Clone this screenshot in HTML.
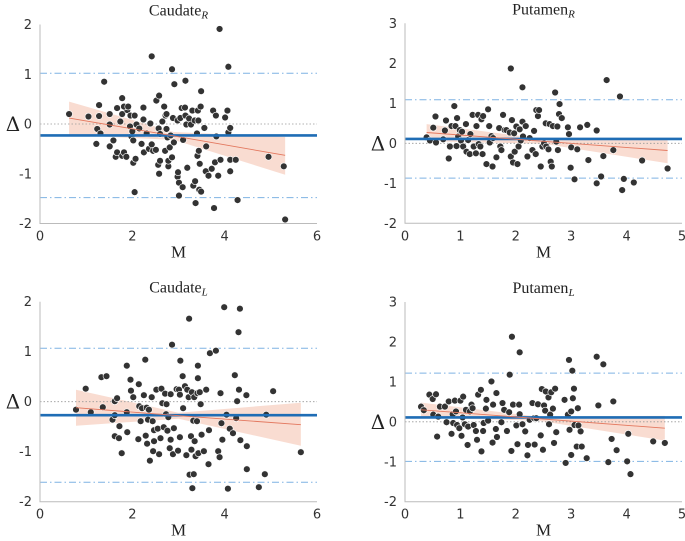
<!DOCTYPE html>
<html><head><meta charset="utf-8"><style>
html,body{margin:0;padding:0;background:#fff;}
svg{display:block;}
</style></head><body>
<svg id="fig" width="685" height="541" viewBox="0 0 685 541"></svg>
<script>
// ---- Caudate R ----
const caudRM=[0.63,1.05,1.28,1.28,1.39,1.24,1.31,1.22,1.51,1.51,1.51,1.59,1.64,1.67,1.67,1.74,1.78,1.78,1.82,1.89,1.78,1.82,1.87,1.91,1.95,1.96,1.98,2.00,2.02,2.05,2.02,2.05,2.07,2.09,2.15,2.20,2.24,2.24,2.25,2.31,2.36,2.39,2.42,2.42,2.45,2.51,2.52,2.56,2.57,2.58,2.58,2.60,2.60,2.65,2.69,2.71,2.72,2.74,2.74,2.76,2.78,2.78,2.81,2.83,2.86,2.86,2.88,2.90,2.91,2.98,2.98,2.99,3.01,3.01,3.04,3.07,3.09,3.10,3.14,3.15,3.15,3.17,3.19,3.23,3.27,3.30,3.32,3.35,3.36,3.37,3.40,3.41,3.42,3.43,3.44,3.45,3.46,3.48,3.49,3.49,3.56,3.60,3.59,3.65,3.72,3.75,3.79,3.77,3.81,3.82,3.86,3.89,3.91,4.01,4.06,4.08,4.08,4.12,4.12,4.12,4.24,4.28,4.95,5.28,5.31];
const caudRD=[0.20,0.15,0.38,0.16,0.85,-0.10,-0.19,-0.40,0.20,-0.01,-0.45,-0.33,-0.66,0.32,-0.57,0.05,-0.64,0.20,-0.57,0.28,0.52,0.35,-0.66,0.35,-0.05,0.17,-0.25,-0.15,-0.33,0.17,-0.78,-1.37,-0.70,-0.01,-0.09,-0.40,0.09,0.33,-0.57,-0.19,-0.50,0.01,-0.41,1.36,-0.54,-0.52,0.47,-0.82,-0.09,0.57,-1.00,-0.20,-0.74,0.05,0.35,-0.54,0.17,0.20,-0.10,-0.27,-0.85,-0.74,-0.47,-0.23,-0.67,1.10,0.12,-0.37,0.80,0.07,-1.06,-0.97,-1.18,-1.44,0.12,0.32,-1.27,-0.32,0.33,0.17,0.87,-0.01,-0.88,0.11,-0.01,0.27,-1.24,0.07,-1.15,-1.59,-0.19,-0.64,0.27,0.07,-0.54,-1.32,-0.80,0.35,-1.36,0.66,-0.08,-0.45,-0.95,-1.04,-0.90,0.27,-0.77,-1.69,0.17,-0.25,-1.04,1.91,-0.72,0.13,0.27,1.15,-0.17,-0.08,-0.72,-0.95,-0.72,-1.53,-0.66,-0.85,-1.92];
const caudRStats=[-0.23,1.02,-1.48]; // mean, upper LoA, lower LoA
const caudRFitX=[0.63,2.9,5.31];
const caudRFitY=[0.12,-0.24,-0.63];
const caudRBandHi=[0.45,-0.16,-0.26];
const caudRBandLo=[-0.22,-0.32,-1.02];
// ---- Putamen R ----
const putRM=[0.39,0.45,0.51,0.55,0.56,0.69,0.72,0.74,0.79,0.81,0.84,0.89,0.91,0.93,0.94,0.96,0.99,1.01,1.03,1.05,1.10,1.11,1.14,1.17,1.18,1.22,1.24,1.28,1.29,1.32,1.33,1.36,1.38,1.40,1.41,1.47,1.50,1.52,1.53,1.56,1.58,1.59,1.65,1.70,1.72,1.74,1.77,1.80,1.83,1.89,1.91,1.91,1.93,1.95,1.97,1.98,2.01,2.03,2.05,2.07,2.09,2.12,2.12,2.13,2.18,2.21,2.25,2.30,2.33,2.36,2.37,2.40,2.42,2.45,2.48,2.51,2.54,2.55,2.59,2.61,2.63,2.65,2.67,2.71,2.73,2.75,2.76,2.78,2.79,2.83,2.94,2.96,2.99,3.00,3.06,3.11,3.16,3.29,3.31,3.46,3.46,3.54,3.58,3.64,3.76,3.88,3.92,3.95,4.13,4.28,4.74];
const putRD=[0.15,0.07,0.39,0.67,0.02,0.10,0.32,0.57,-0.38,-0.08,0.43,0.93,0.43,-0.07,0.63,0.17,0.33,0.07,0.29,-0.08,0.48,-0.21,0.08,-0.27,0.23,0.71,-0.08,-0.25,0.43,0.71,-0.02,-0.08,0.60,-0.27,0.68,-0.52,0.85,0.43,0.02,0.18,-0.58,0.13,-0.35,0.38,-0.08,-0.17,0.71,0.33,0.33,0.27,1.87,-0.33,0.58,-0.48,0.25,-0.21,0.42,-0.52,-0.08,0.35,0.07,1.40,0.54,0.17,0.43,-0.33,0.13,-0.17,0.31,-0.27,0.83,0.68,0.83,-0.58,-0.08,0.00,0.50,-0.08,-0.15,0.48,-0.46,-0.58,0.43,1.27,0.04,0.42,-0.17,0.73,0.98,0.63,0.40,0.23,-0.61,-0.10,-0.90,-0.15,0.40,0.46,-0.42,0.32,-1.00,-0.83,-0.32,1.58,-0.17,1.17,-1.17,-0.89,-0.98,-0.43,-0.63];
const putRStats=[0.11,1.09,-0.87];
const putRFitX=[0.39,2.5,4.74];
const putRFitY=[0.27,0.05,-0.18];
const putRBandHi=[0.48,0.11,0.12];
const putRBandLo=[0.05,-0.01,-0.50];
// ---- Caudate L ----
const caudLM=[0.78,0.99,1.10,1.33,1.36,1.44,1.57,1.62,1.62,1.67,1.62,1.71,1.72,1.77,1.88,1.88,1.89,1.96,1.97,2.02,2.13,2.14,2.15,2.18,2.21,2.25,2.28,2.29,2.31,2.32,2.34,2.36,2.38,2.42,2.44,2.45,2.47,2.47,2.52,2.55,2.58,2.61,2.63,2.65,2.68,2.71,2.73,2.74,2.76,2.78,2.81,2.83,2.83,2.86,2.88,2.90,2.96,2.99,3.01,3.03,3.03,3.04,3.09,3.10,3.14,3.17,3.19,3.22,3.23,3.24,3.27,3.28,3.29,3.30,3.32,3.33,3.34,3.35,3.37,3.40,3.41,3.42,3.42,3.43,3.46,3.48,3.50,3.55,3.60,3.65,3.66,3.68,3.81,3.86,3.89,3.91,3.93,3.95,3.99,4.04,4.07,4.11,4.18,4.22,4.25,4.27,4.30,4.31,4.33,4.34,4.47,4.48,4.48,4.74,4.87,4.90,5.05,5.65];
const caudLD=[-0.16,0.26,-0.21,0.49,-0.11,0.51,-0.36,-0.27,0.01,0.07,-0.69,-0.73,-0.49,-1.03,-0.21,0.72,-0.61,0.44,0.22,0.09,-0.75,0.35,-0.09,-0.39,-0.13,0.13,0.84,-0.68,-0.12,-0.84,-0.36,-0.16,-1.18,0.09,-0.39,-0.99,-0.79,-0.57,0.24,-0.54,-1.05,-0.73,0.26,-0.03,-0.51,0.16,-0.25,-0.05,-0.58,-0.31,-0.93,0.15,-0.76,1.14,-1.05,-0.53,0.25,-0.98,0.24,-0.71,0.14,0.82,0.51,-0.13,0.31,-1.07,0.24,0.09,1.66,-1.46,-0.69,-0.96,0.19,-1.73,-0.38,-1.45,0.09,-0.79,-1.09,-0.39,0.17,0.47,0.72,-1.03,0.19,-0.05,-0.66,-0.99,0.24,-1.25,-0.57,0.97,1.02,-0.99,-1.11,0.17,-0.43,-0.76,1.89,-0.26,-1.74,-0.54,-0.63,0.53,-0.33,0.01,1.39,0.24,1.86,-0.77,0.13,-0.89,-1.35,-1.71,-1.45,-0.26,0.21,-1.01];
const caudLStats=[-0.27,1.07,-1.61];
const caudLFitX=[0.78,3.0,5.65];
const caudLFitY=[-0.12,-0.28,-0.46];
const caudLBandHi=[0.24,-0.22,-0.02];
const caudLBandLo=[-0.48,-0.34,-0.88];
// ---- Putamen L ----
const putLM=[0.29,0.34,0.44,0.50,0.51,0.56,0.58,0.60,0.63,0.72,0.75,0.79,0.84,0.86,0.87,0.90,0.92,0.94,0.98,1.00,1.02,1.04,1.05,1.08,1.10,1.13,1.14,1.17,1.20,1.22,1.24,1.28,1.30,1.32,1.37,1.38,1.41,1.42,1.46,1.47,1.50,1.56,1.58,1.59,1.64,1.65,1.66,1.74,1.76,1.79,1.84,1.88,1.89,1.92,1.93,1.95,2.01,2.03,2.06,2.07,2.07,2.12,2.17,2.21,2.22,2.25,2.30,2.33,2.34,2.37,2.40,2.45,2.47,2.49,2.51,2.53,2.54,2.59,2.60,2.62,2.64,2.67,2.69,2.71,2.73,2.88,2.90,2.94,2.96,2.97,3.00,3.00,3.02,3.03,3.05,3.06,3.10,3.12,3.13,3.17,3.19,3.28,3.46,3.49,3.58,3.73,3.76,3.82,3.67,4.01,4.03,4.07,4.48,4.69];
const putLD=[0.38,0.29,0.68,0.57,0.18,0.69,-0.37,0.13,0.38,0.38,-0.01,0.51,-0.30,0.19,-0.03,0.53,0.26,-0.08,-0.16,0.53,-0.35,0.11,0.63,-0.06,0.30,-0.58,-0.12,0.26,0.43,0.34,-0.08,-0.23,-0.45,0.68,0.80,-0.74,-0.23,-0.03,0.33,0.55,0.03,1.01,-0.52,0.43,-0.18,0.72,-0.38,-0.01,0.47,0.30,-0.23,0.24,1.18,-0.73,2.13,0.43,-0.09,-0.56,0.43,1.74,0.19,-0.06,-0.24,-0.84,-0.58,0.05,0.47,0.09,-0.57,0.09,0.44,-0.34,0.82,-0.70,0.41,0.28,0.76,0.61,-0.06,0.18,0.74,0.33,-0.53,0.83,-0.26,0.55,-1.03,0.18,1.55,-0.20,-0.83,0.26,1.28,0.59,0.83,-0.08,-0.62,0.34,-0.09,-0.24,-0.62,-0.91,1.63,0.41,1.44,-0.43,0.51,-0.71,-1.01,-0.99,-0.30,-1.31,-0.49,-0.53];
const putLStats=[0.11,1.22,-0.99];
const putLFitX=[0.29,2.4,4.69];
const putLFitY=[0.30,0.08,-0.16];
const putLBandHi=[0.48,0.13,0.15];
const putLBandLo=[0.10,0.03,-0.47];

const xTicksCaud=[0,2,4,6];
const xTicksPut=[0,1,2,3,4,5];
const yTicksCaud=[-2,-1,0,1,2];
const yTicksPut=[-2,-1,0,1,2,3];

const NS="http://www.w3.org/2000/svg";
const svg=document.getElementById('fig');
function mk(tag,attrs,parent){const e=document.createElementNS(NS,tag);for(const k in attrs)e.setAttribute(k,attrs[k]);(parent||svg).appendChild(e);return e;}

function panel(cfg){
  const g=mk('g',{});
  
  
  const X=v=>cfg.x0+(v-cfg.xmin)/(cfg.xmax-cfg.xmin)*(cfg.x1-cfg.x0);
  const Y=v=>cfg.yb+(v-cfg.ymin)/(cfg.ymax-cfg.ymin)*(cfg.yt-cfg.yb);
  let pts=[];
  for(let i=0;i<cfg.fx.length;i++)pts.push(X(cfg.fx[i])+','+Y(cfg.bh[i]));
  for(let i=cfg.fx.length-1;i>=0;i--)pts.push(X(cfg.fx[i])+','+Y(cfg.bl[i]));
  const band=mk('polygon',{points:pts.join(' '),fill:'#f6cdbd','fill-opacity':'0.7'},g);
  
  
  const z=mk('line',{x1:cfg.x0,x2:cfg.x1,y1:Y(0),y2:Y(0),stroke:'#999','stroke-width':0.8,'stroke-dasharray':'1.5,2'},g);
  
  
  [1,2].forEach(i=>{
    const l=mk('line',{x1:cfg.x0,x2:cfg.x1,y1:Y(cfg.stats[i]),y2:Y(cfg.stats[i]),stroke:'#7fb2e3','stroke-width':1,'stroke-dasharray':'7,3,1.5,3'},g);
    
    
  });
  for(let i=0;i<cfg.m.length;i++){
    const c=mk('circle',{cx:X(cfg.m[i]),cy:Y(cfg.d[i]),r:3.4,fill:'#333',stroke:'#fff','stroke-width':0.6},g);
    
    
  }
  const ml=mk('line',{x1:cfg.x0,x2:cfg.x1,y1:Y(cfg.stats[0]),y2:Y(cfg.stats[0]),stroke:'#1f6db5','stroke-width':2.6},g);
  
  
  const rp=cfg.fx.map((v,i)=>X(v)+','+Y(cfg.fy[i])).join(' ');
  const rl=mk('polyline',{points:rp,fill:'none',stroke:'#e3785f','stroke-width':0.9},g);
  
  
  const ax=mk('path',{d:`M${cfg.x0},${cfg.yt} V${cfg.yb} H${cfg.x1}`,fill:'none',stroke:'#bbb','stroke-width':1},g);
  
  
  cfg.xt.forEach(v=>{
    const t=mk('text',{x:X(v),y:cfg.yb+17,'text-anchor':'middle','font-size':13,fill:'#333','font-family':'DejaVu Sans, Liberation Sans, sans-serif'},g);
    t.textContent=v;
    
    
  });
  cfg.yt2.forEach(v=>{
    const t=mk('text',{x:cfg.x0-8,y:Y(v)+4.5,'text-anchor':'end','font-size':13,fill:'#333','font-family':'DejaVu Sans, Liberation Sans, sans-serif'},g);
    t.textContent=v;
    
    
  });
  const cx=(cfg.x0+cfg.x1)/2;
  const ti=mk('text',{x:cx,y:cfg.yt-9,'text-anchor':'middle','font-size':16,fill:'#222','font-family':'Liberation Serif, serif'},g);
  ti.innerHTML=cfg.title+'<tspan font-size="11" font-style="italic" dy="3">'+cfg.sub+'</tspan>';
  
  
  const xl=mk('text',{x:cx,y:cfg.yb+34,'text-anchor':'middle','font-size':17,fill:'#222','font-family':'Liberation Serif, serif'},g);
  xl.textContent='M';
  
  
  const yl=mk('text',{x:cfg.x0-27,y:Y(0)+7,'text-anchor':'middle','font-size':20,fill:'#222','font-family':'DejaVu Serif, Liberation Serif, serif'},g);
  yl.textContent='Δ';
  
  
}
panel({name:'panel-caudate-r',x0:40,x1:317,yt:24.5,yb:223.5,xmin:0,xmax:6,ymin:-2,ymax:2,m:caudRM,d:caudRD,stats:caudRStats,fx:caudRFitX,fy:caudRFitY,bh:caudRBandHi,bl:caudRBandLo,xt:xTicksCaud,yt2:yTicksCaud,title:'Caudate',sub:'R'});
panel({name:'panel-putamen-r',x0:405,x1:682,yt:23.3,yb:223.3,xmin:0,xmax:5,ymin:-2,ymax:3,m:putRM,d:putRD,stats:putRStats,fx:putRFitX,fy:putRFitY,bh:putRBandHi,bl:putRBandLo,xt:xTicksPut,yt2:yTicksPut,title:'Putamen',sub:'R'});
panel({name:'panel-caudate-l',x0:40,x1:317,yt:301.7,yb:501.7,xmin:0,xmax:6,ymin:-2,ymax:2,m:caudLM,d:caudLD,stats:caudLStats,fx:caudLFitX,fy:caudLFitY,bh:caudLBandHi,bl:caudLBandLo,xt:xTicksCaud,yt2:yTicksCaud,title:'Caudate',sub:'L'});
panel({name:'panel-putamen-l',x0:405,x1:682,yt:302,yb:501.7,xmin:0,xmax:5,ymin:-2,ymax:3,m:putLM,d:putLD,stats:putLStats,fx:putLFitX,fy:putLFitY,bh:putLBandHi,bl:putLBandLo,xt:xTicksPut,yt2:yTicksPut,title:'Putamen',sub:'L'});
</script>
</body></html>
